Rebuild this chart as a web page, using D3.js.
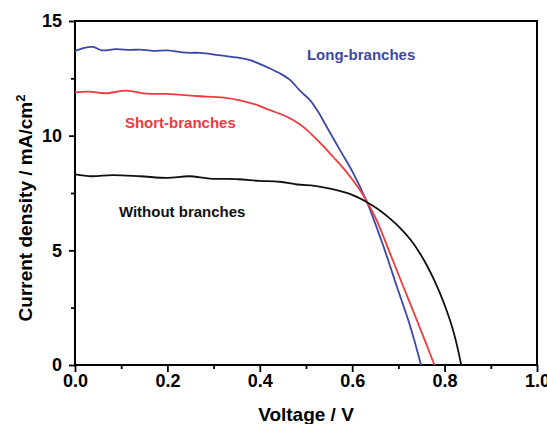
<!DOCTYPE html>
<html>
<head>
<meta charset="utf-8">
<script src="https://cdn.jsdelivr.net/npm/d3@7"></script>
<style>
  body { margin: 0; background: #fff; }
  svg text { font-family: "Liberation Sans", Arial, sans-serif; font-weight: bold; }
  .tick text { font-size: 18px; fill: #000; }
  .tick line { stroke: #000; stroke-width: 1.8; }
  .curve { fill: none; stroke-width: 1.8; }
</style>
</head>
<body>
<div id="chart"></div>
<script>
// J-V curves, values
var longV = [0, 0.02, 0.039, 0.058, 0.088, 0.12, 0.141, 0.17, 0.2, 0.24, 0.271, 0.315, 0.353, 0.379, 0.398, 0.422, 0.445, 0.466, 0.487, 0.509, 0.526, 0.545, 0.574, 0.602, 0.632, 0.668, 0.697, 0.726, 0.749];
var longJ = [13.69, 13.83, 13.87, 13.72, 13.77, 13.74, 13.75, 13.70, 13.72, 13.62, 13.61, 13.50, 13.40, 13.29, 13.14, 12.93, 12.70, 12.42, 11.96, 11.54, 11.05, 10.38, 9.36, 8.38, 7.10, 5.15, 3.40, 1.66, 0];

var shortV = [0, 0.03, 0.066, 0.111, 0.156, 0.2, 0.262, 0.322, 0.357, 0.39, 0.422, 0.45, 0.473, 0.496, 0.516, 0.537, 0.559, 0.578, 0.596, 0.615, 0.632, 0.653, 0.682, 0.711, 0.74, 0.76, 0.778];
var shortJ = [11.89, 11.92, 11.85, 11.96, 11.83, 11.82, 11.73, 11.66, 11.54, 11.36, 11.11, 10.90, 10.67, 10.35, 9.98, 9.55, 9.07, 8.65, 8.20, 7.68, 7.12, 6.31, 4.86, 3.40, 1.95, 0.93, 0];

var noneV = [0, 0.036, 0.081, 0.141, 0.2, 0.247, 0.292, 0.353, 0.398, 0.443, 0.481, 0.519, 0.552, 0.596, 0.632, 0.657, 0.682, 0.705, 0.726, 0.745, 0.762, 0.778, 0.791, 0.804, 0.816, 0.826, 0.836];
var noneJ = [8.31, 8.23, 8.28, 8.23, 8.16, 8.23, 8.13, 8.10, 8.03, 7.99, 7.87, 7.81, 7.69, 7.45, 7.10, 6.78, 6.38, 5.95, 5.47, 4.92, 4.33, 3.68, 3.08, 2.40, 1.68, 0.92, 0];

var seriesNames = ["Long-branches", "Short-branches", "Without branches"];
var xTicks = [0, 0.2, 0.4, 0.6, 0.8, 1.0];
var xMinor = [0.1, 0.3, 0.5, 0.7, 0.9];
var yTicks = [0, 5, 10, 15];
var yMinor = [2.5, 7.5, 12.5];

var W = 547, H = 424;
var margin = {top: 21, right: 10, bottom: 59, left: 75};
var w = W - margin.left - margin.right, h = H - margin.top - margin.bottom;

var svg = d3.select("#chart").append("svg")
  .attr("width", W).attr("height", H);
var g = svg.append("g").attr("transform", "translate(" + margin.left + "," + margin.top + ")");

var x = d3.scaleLinear().domain([0, 1]).range([0, w]);
var y = d3.scaleLinear().domain([0, 15]).range([h, 0]);

// minor ticks first, then major
g.append("g").attr("transform", "translate(0," + h + ")")
  .call(d3.axisBottom(x).tickValues(xMinor).tickSize(4).tickFormat(""))
  .call(function(a){ a.select(".domain").remove(); });
g.append("g").attr("transform", "translate(0," + h + ")")
  .call(d3.axisBottom(x).tickValues(xTicks).tickSize(7).tickPadding(2).tickFormat(d3.format(".1f")))
  .call(function(a){ a.select(".domain").remove(); a.selectAll("text").attr("font-family", null).attr("font-size", null); });

g.append("g")
  .call(d3.axisLeft(y).tickValues(yMinor).tickSize(4).tickFormat(""))
  .call(function(a){ a.select(".domain").remove(); });
g.append("g")
  .call(d3.axisLeft(y).tickValues(yTicks).tickSize(6).tickPadding(7).tickFormat(d3.format("d")))
  .call(function(a){ a.select(".domain").remove(); a.selectAll("text").attr("font-family", null).attr("font-size", null); });

// frame
g.append("rect").attr("x", 0).attr("y", 0).attr("width", w).attr("height", h)
  .attr("fill", "none").attr("stroke", "#000").attr("stroke-width", 2);

var line = d3.line()
  .x(function(d){ return x(d[0]); })
  .y(function(d){ return y(d[1]); })
  .curve(d3.curveCatmullRom.alpha(0.5));

var series = [
  {name: seriesNames[0], v: longV, j: longJ, color: "#3c48a6"},
  {name: seriesNames[1], v: shortV, j: shortJ, color: "#ef3a3f"},
  {name: seriesNames[2], v: noneV, j: noneJ, color: "#111"}
];

g.selectAll("path.curve").data(series).enter().append("path")
  .attr("class", "curve")
  .attr("stroke", function(d){ return d.color; })
  .attr("d", function(d){ return line(d3.zip(d.v, d.j)); });

// in-plot labels
var labelAt = [[0.502, 13.28], [0.108, 10.32], [0.095, 6.44]];
g.selectAll("text.lbl").data(series).enter().append("text")
  .attr("class", "lbl")
  .attr("x", function(d, i){ return x(labelAt[i][0]); })
  .attr("y", function(d, i){ return y(labelAt[i][1]); })
  .attr("font-size", 15)
  .attr("fill", function(d){ return d.color; })
  .text(function(d){ return d.name; });

// axis titles
svg.append("text")
  .attr("x", margin.left + w / 2).attr("y", 421)
  .attr("text-anchor", "middle").attr("font-size", 19)
  .text("Voltage / V");

var yt = svg.append("text")
  .attr("transform", "translate(32," + 208 + ") rotate(-90)")
  .attr("text-anchor", "middle").attr("font-size", 19);
yt.append("tspan").text("Current density / mA/cm");
yt.append("tspan").attr("dy", -7).attr("font-size", 13).text("2");
</script>
</body>
</html>
